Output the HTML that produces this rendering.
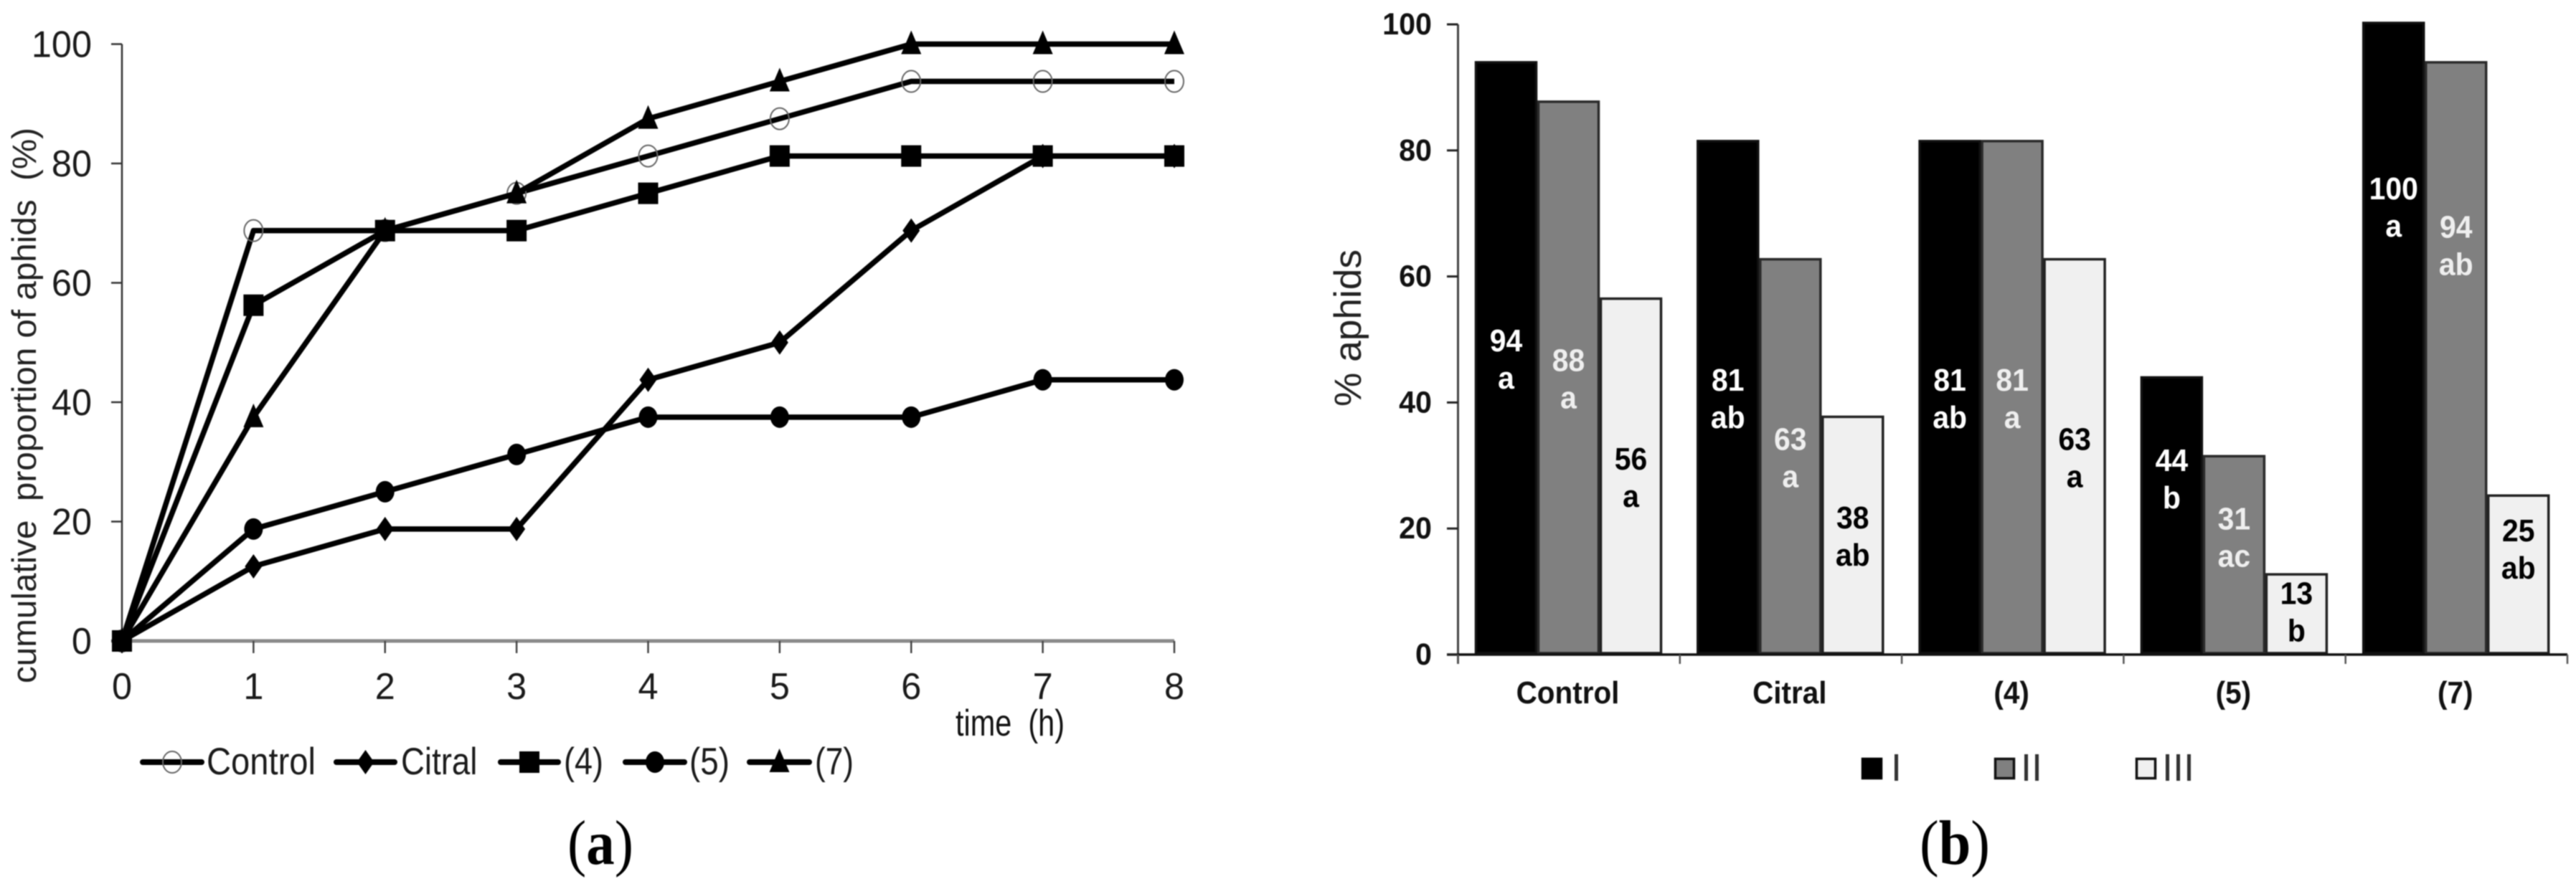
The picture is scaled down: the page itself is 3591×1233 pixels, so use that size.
<!DOCTYPE html>
<html lang="en">
<head>
<meta charset="utf-8">
<title>Cumulative proportion of aphids</title>
<style>
html,body{margin:0;padding:0;background:#fff;width:3591px;height:1233px;overflow:hidden}
svg{display:block;filter:blur(0.7px)}
text{font-family:"Liberation Sans",Arial,sans-serif}
</style>
</head>
<body>
<svg id="figure" xmlns="http://www.w3.org/2000/svg" width="3591" height="1233" viewBox="0 0 3591 1233">
  <g id="chart-a">
    <text transform="translate(50,953) rotate(-90)" font-size="47" fill="#222" xml:space="preserve" textLength="775" lengthAdjust="spacingAndGlyphs" style="white-space:pre">cumulative  proportion of aphids  (%)</text>
    <text x="1332" y="1026" font-size="52" fill="#111" xml:space="preserve" textLength="152" lengthAdjust="spacingAndGlyphs" style="white-space:pre">time  (h)</text>
    <text x="791" y="1205" font-size="88" fill="#000" style="font-family:'Liberation Serif',serif" textLength="92" lengthAdjust="spacingAndGlyphs">(<tspan font-weight="bold">a</tspan>)</text>
  </g>
  <g id="chart-b">
    <text transform="translate(1897,567) rotate(-90)" font-size="53" fill="#222" textLength="219" lengthAdjust="spacingAndGlyphs">% aphids</text>
    <text x="2676" y="1205" font-size="88" fill="#000" style="font-family:'Liberation Serif',serif" textLength="98" lengthAdjust="spacingAndGlyphs">(<tspan font-weight="bold">b</tspan>)</text>
  </g>
</svg>
<script>
/* ---------- chart (a) data ---------- */
const timeHours = [0, 1, 2, 3, 4, 5, 6, 7, 8];
const lineTicks = [0, 20, 40, 60, 80, 100];
const controlValues = [0, 68.75, 68.75, 75, 81.25, 87.5, 93.75, 93.75, 93.75];
const citralValues = [0, 12.5, 18.75, 18.75, 43.75, 50, 68.75, 81.25, 81.25];
const comp4Values = [0, 56.25, 68.75, 68.75, 75, 81.25, 81.25, 81.25, 81.25];
const comp5Values = [0, 18.75, 25, 31.25, 37.5, 37.5, 37.5, 43.75, 43.75];
const comp7Values = [0, 37.5, 68.75, 75, 87.5, 93.75, 100, 100, 100];

/* ---------- chart (b) data ---------- */
const barCategories = ['Control', 'Citral', '(4)', '(5)', '(7)'];
const barTicks = [0, 20, 40, 60, 80, 100];
const instarI = [93.75, 81.25, 81.25, 43.75, 100];
const instarII = [87.5, 62.5, 81.25, 31.25, 93.75];
const instarIII = [56.25, 37.5, 62.5, 12.5, 25];
const printedI = ['94', '81', '81', '44', '100'];
const printedII = ['88', '63', '81', '31', '94'];
const printedIII = ['56', '38', '63', '13', '25'];
const lettersI = ['a', 'ab', 'ab', 'b', 'a'];
const lettersII = ['a', 'a', 'a', 'ac', 'ab'];
const lettersIII = ['a', 'ab', 'a', 'b', 'ab'];

/* ---------- helpers ---------- */
const NS = 'http://www.w3.org/2000/svg';
function mk(tag, parent, attrs) {
  const el = document.createElementNS(NS, tag);
  for (const k in attrs) el.setAttribute(k, attrs[k]);
  parent.appendChild(el);
  return el;
}
function label(parent, str, x, y, size, anchor, sx, weight, fill) {
  const el = mk('text', parent, {
    transform: 'translate(' + x + ',' + y + ') scale(' + sx + ',1)',
    'font-size': size, 'text-anchor': anchor, 'font-weight': weight, fill: fill
  });
  el.textContent = str;
  return el;
}
function marker(parent, kind, cx, cy) {
  let el;
  if (kind === 'open') {
    el = mk('ellipse', parent, {cx: cx, cy: cy, rx: 13, ry: 15, fill: 'none', stroke: '#666', 'stroke-width': 2});
  } else if (kind === 'circle') {
    el = mk('ellipse', parent, {cx: cx, cy: cy, rx: 13, ry: 15, fill: '#000'});
  } else if (kind === 'square') {
    el = mk('rect', parent, {x: cx - 14, y: cy - 15, width: 28, height: 30, fill: '#000'});
  } else if (kind === 'diamond') {
    el = mk('polygon', parent, {points: [cx, cy - 17, cx + 12, cy, cx, cy + 17, cx - 12, cy].join(' '), fill: '#000'});
  } else {
    el = mk('polygon', parent, {points: [cx, cy - 19, cx + 14, cy + 14, cx - 14, cy + 14].join(' '), fill: '#000'});
  }
  return el;
}

/* ---------- chart (a) ---------- */
const gA = document.getElementById('chart-a');
const xA = h => 170 + (h / 8) * 1467;
const yA = v => 894 - (v / 100) * 832.5;
let node;

node = mk('line', gA, {x1: 170, y1: yA(100), x2: 170, y2: 894, stroke: '#333', 'stroke-width': 2.5});



node = mk('line', gA, {x1: 155, y1: 894, x2: 1637, y2: 894, stroke: '#8a8a8a', 'stroke-width': 5});



lineTicks.forEach(t => {
  const mark = mk('line', gA, {x1: 155, y1: yA(t), x2: 170, y2: yA(t), stroke: '#333', 'stroke-width': 2.5});
  
  
  const txt = label(gA, String(t), 128, yA(t) + 18, 52, 'end', 0.97, 'normal', '#1a1a1a');
  
  
});
timeHours.forEach(h => {
  const mark = mk('line', gA, {x1: xA(h), y1: 894, x2: xA(h), y2: 911, stroke: '#444', 'stroke-width': 2.5});
  
  
  const txt = label(gA, String(h), xA(h), 975, 52, 'middle', 0.97, 'normal', '#1a1a1a');
  
  
});

const lineSeries = [
  ['control', 'open', controlValues],
  ['citral', 'diamond', citralValues],
  ['compound-4', 'square', comp4Values],
  ['compound-5', 'circle', comp5Values],
  ['compound-7', 'triangle', comp7Values]
];
lineSeries.forEach(s => {
  const path = mk('polyline', gA, {
    points: s[2].map((v, i) => xA(timeHours[i]) + ',' + yA(v)).join(' '),
    fill: 'none', stroke: '#000', 'stroke-width': 7.5, 'stroke-linejoin': 'round'
  });
  
  
  s[2].forEach((v, i) => {
    const dot = marker(gA, s[1], xA(timeHours[i]), yA(v));
    
    
  });
});

const legendA = [
  ['control', 'open', 'Control', 199, 281, 288, 152, 3.223],
  ['citral', 'diamond', 'Citral', 469, 550, 559, 109, 2.39],
  ['compound-4', 'square', '(4)', 698, 778, 786, 55, 1.222],
  ['compound-5', 'circle', '(5)', 872, 954, 961, 56, 1.222],
  ['compound-7', 'triangle', '(7)', 1045, 1128, 1136, 54, 1.222]
];
legendA.forEach(e => {
  const ln = mk('line', gA, {x1: e[3], y1: 1063, x2: e[4], y2: 1063, stroke: '#000', 'stroke-width': 8, 'stroke-linecap': 'round'});
  
  
  const mkr = marker(gA, e[1], (e[3] + e[4]) / 2, 1063);
  
  
  const txt = label(gA, e[2], e[5], 1080, 53, 'start', e[6] / (e[7] * 53), 'normal', '#1a1a1a');
  
  
});

/* ---------- chart (b) ---------- */
const gB = document.getElementById('chart-b');
const yB = v => 913 - (v / 100) * 879;
const groupX = i => 2032.5 + i * 309.3;
const barW = 87;
const barFills = ['#000', '#808080', '#f0f0f0'];
const barStroke = ['#111', '#2a2a2a', '#222'];
const textFills = ['#fff', '#efefef', '#000'];
const barSeries = [instarI, instarII, instarIII];
const printedSeries = [printedI, printedII, printedIII];
const letterSeries = [lettersI, lettersII, lettersIII];
/* hand-placed label lift in axis percent, per series and group */
const liftI = [0, 0, 0, 6, 21];
const liftII = [0, 0, 0, 3, 18];
const liftIII = [0, 0, 0, 0.5, 4.2];
const liftSeries = [liftI, liftII, liftIII];

barCategories.forEach((cat, g) => {
  barSeries.forEach((vals, s) => {
    const x = groupX(g) + 23.5 + s * barW;
    const bar = mk('rect', gB, {
      x: x + 1.5, y: yB(vals[g]) - 2, width: barW - 3, height: 913 - yB(vals[g]),
      fill: barFills[s], stroke: barStroke[s], 'stroke-width': 3.5
    });
    
    
  });
});
barCategories.forEach((cat, g) => {
  barSeries.forEach((vals, s) => {
    const cx = groupX(g) + 23.5 + s * barW + barW / 2;
    const mid = yB(vals[g] / 2 + liftSeries[s][g]);
    const a = label(gB, printedSeries[s][g], cx, mid - 11, 44, 'middle', 0.93, 'bold', textFills[s]);
    
    
    const b = label(gB, letterSeries[s][g], cx, mid + 41, 44, 'middle', 0.93, 'bold', textFills[s]);
    
    
  });
  const c = label(gB, cat, groupX(g) + 153, 981, 44, 'middle', 0.92, 'bold', '#111');
  
  
});

node = mk('line', gB, {x1: 2032.5, y1: yB(100), x2: 2032.5, y2: 926, stroke: '#444', 'stroke-width': 3});



node = mk('line', gB, {x1: 2017, y1: 913, x2: 3579, y2: 913, stroke: '#111', 'stroke-width': 3.5});



barTicks.forEach(t => {
  const mark = mk('line', gB, {x1: 2017, y1: yB(t), x2: 2032.5, y2: yB(t), stroke: '#222', 'stroke-width': 3});
  
  
  const txt = label(gB, String(t), 1996, yB(t) + 14, 43, 'end', 0.96, 'bold', '#111');
  
  
});
barCategories.concat(['end']).forEach((c, i) => {
  const mark = mk('line', gB, {x1: groupX(i), y1: 913, x2: groupX(i), y2: 926, stroke: '#555', 'stroke-width': 2.5});
  
  
});

const legendB = [
  ['I', 2595, 2636, '#000', '#000'],
  ['II', 2780, 2817, '#808080', '#111'],
  ['III', 2977, 3014, '#f0f0f0', '#111']
];
legendB.forEach(e => {
  const sw = mk('rect', gB, {x: e[1] + 1.5, y: 1058.5, width: 26, height: 27, fill: e[3], stroke: e[4], 'stroke-width': 3.5});
  
  
  const txt = label(gB, e[0], e[2], 1089, 54, 'start', 1, 'normal', '#333');
  
  
});
</script>
</body>
</html>
